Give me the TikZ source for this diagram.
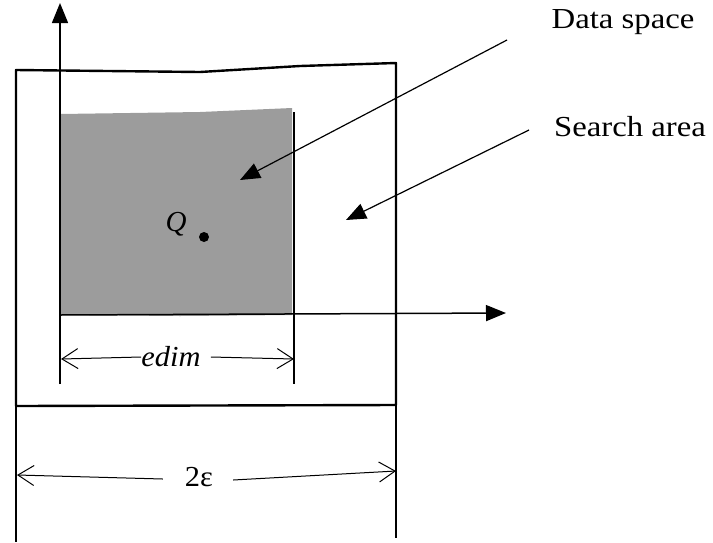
\documentclass[tikz,border=0pt]{standalone}
\usepackage{fontspec}
\setmainfont{Liberation Serif}
\usetikzlibrary{arrows.meta}
\begin{document}
\begin{tikzpicture}[x=1pt,y=-1pt,
  lbl/.style={font=\fontsize{29}{34}\selectfont, inner sep=0pt},
  solidtip/.style={-{Triangle[length=20pt,width=16pt]}},
  barb/.style={-{Straight Barb[length=16pt,width=20pt]}},
  thick line/.style={line width=2.4pt},
  axis line/.style={line width=1.5pt}]
\useasboundingbox (0,0) rectangle (713,542);
% gray data region
\fill[gray!78] (60,114) -- (200,112) -- (292,108) -- (292,315) -- (180,316) -- (60,315) -- cycle;
% outer search box
\coordinate (tl) at (16,70);
\coordinate (tr) at (396,63);
\coordinate (bl) at (16,406);
\coordinate (br) at (396,405);
\draw[thick line, line join=round] (bl) -- (tl) -- (200,72) -- (300,66) -- (tr) -- (br) -- cycle;
% extension lines of outer box
\draw[line width=1.3pt] (bl) -- (16,542);
\draw[line width=1.3pt] (br) -- (396,538);
% axes
\coordinate (o) at (60,315);
\coordinate (ytop) at (60,3);
\coordinate (xend) at (506,313);
\coordinate (ybot) at (60,384);
\draw[axis line, solidtip] (ybot) -- (ytop);
\draw[axis line, solidtip] (o) -- (xend);
% right extension line of data region
\coordinate (dr) at (294,112);
\coordinate (drb) at (294,384);
\draw[line width=1.2pt] (dr) -- (drb);
% edim dimension
\node[lbl, font=\fontsize{29}{34}\selectfont\itshape] (edim) at (171,357) {\scalebox{1.05}[1]{edim}};
\coordinate (el) at (61,359);
\coordinate (er) at (294,359);
\draw[line width=1pt, barb] (edim.west) -- (el);
\draw[line width=1pt, barb] ([xshift=10pt]edim.east) -- (er);
% 2 epsilon dimension
\node[lbl] (eps) at (199,477) {\scalebox{1.05}[1]{2ε}};
\coordinate (pl) at (17,475);
\coordinate (pr) at (396,471);
\draw[line width=1pt, barb] ([xshift=-22pt,yshift=-2pt]eps.west) -- (pl);
\draw[line width=1pt, barb] ([xshift=20pt,yshift=-3pt]eps.east) -- (pr);
% Q point
\node[lbl, font=\fontsize{29}{34}\selectfont\itshape] (q) at (176,224) {Q};
\fill (204,237) circle (5pt);
% labels and pointer arrows
\node[lbl] (ds) at (623,22) {\scalebox{1.13}[1]{Data space}};
\node[lbl] (sa) at (630,127) {\scalebox{1.13}[1]{Search area}};
\coordinate (dstip) at (240,180);
\coordinate (satip) at (346,220);
\draw[line width=1.2pt, solidtip] (507,40) -- (dstip);
\draw[line width=1.2pt, solidtip] (529,130) -- (satip);
\end{tikzpicture}
\end{document}
